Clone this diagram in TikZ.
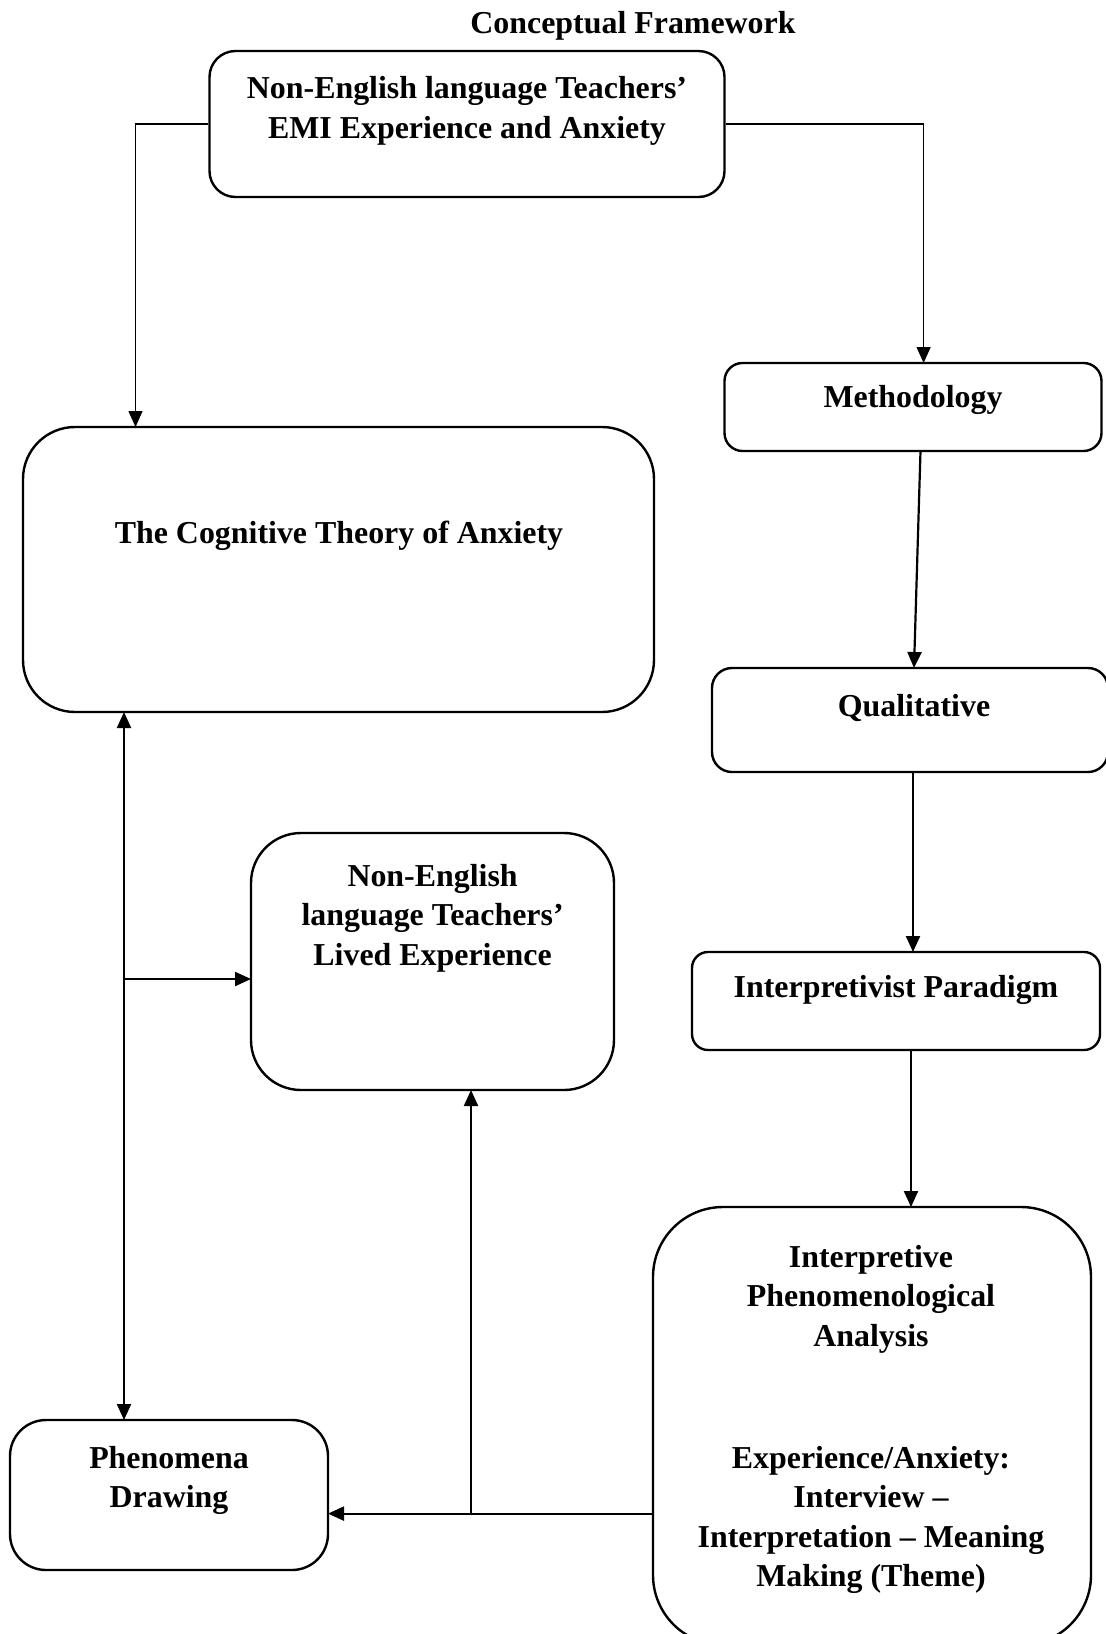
\documentclass[tikz,border=0pt]{standalone}
\usepackage{fontspec}
\setmainfont{Liberation Serif}
\usetikzlibrary{arrows.meta}
\begin{document}
\begin{tikzpicture}[x=1pt,y=-1pt,
  box/.style={draw,line width=2.4pt,inner sep=0pt},
  lbl/.style={font=\bfseries\fontsize{31.9}{39.6}\selectfont,align=center,inner sep=0pt},
  conn/.style={line width=2.2pt,-{Triangle[length=16pt,width=14pt]}},
  thinconn/.style={line width=1.4pt,-{Triangle[length=16pt,width=14pt]}},
  dconn/.style={line width=2.2pt,{Triangle[length=16pt,width=14pt]}-{Triangle[length=16pt,width=14pt]}}]
\useasboundingbox (0,0) rectangle (1106,1634);
% boxes
\node[box,rounded corners=26pt,minimum width=515pt,minimum height=146pt] (top) at (467,124) {};
\node[box,rounded corners=18pt,minimum width=377pt,minimum height=88pt] (meth) at (913,407) {};
\node[box,rounded corners=20pt,minimum width=396pt,minimum height=104pt] (qual) at (910,720) {};
\node[box,rounded corners=16pt,minimum width=408pt,minimum height=98pt] (interp) at (896,1001) {};
\node[box,rounded corners=70pt,minimum width=438pt,minimum height=438pt] (ipa) at (872,1426) {};
\node[box,rounded corners=52pt,minimum width=631pt,minimum height=285pt] (cog) at (338.5,569.5) {};
\node[box,rounded corners=50pt,minimum width=363pt,minimum height=257pt] (lived) at (432.5,961.5) {};
\node[box,rounded corners=36pt,minimum width=318pt,minimum height=150pt] (phen) at (169,1495) {};
% texts
\node[lbl] (title) at (633,26) {Conceptual Framework};
\node[lbl] (toptxt) at (467,111) {Non-English language Teachers’\\EMI Experience and Anxiety};
\node[lbl] (methtxt) at (913,400) {Methodology};
\node[lbl] (qualtxt) at (914,708) {Qualitative};
\node[lbl] (interptxt) at (896,990) {Interpretivist Paradigm};
\node[lbl] (ipatxt1) at (871,1299) {Interpretive\\Phenomenological\\Analysis};
\node[lbl] (ipatxt2) at (871,1520) {Experience/Anxiety:\\Interview –\\Interpretation – Meaning\\Making (Theme)};
\node[lbl] (cogtxt) at (339,536) {The Cognitive Theory of Anxiety};
\node[lbl] (livedtxt) at (432.6,918) {Non-English\\language Teachers’\\Lived Experience};
\node[lbl] (phentxt) at (169,1480.5) {Phenomena\\Drawing};
% coordinates
\coordinate (cogin) at (135.5,427);
\coordinate (methin) at (923.6,363);
\coordinate (methout) at (920.5,451);
\coordinate (qualin) at (914,668);
\coordinate (qualout) at (913,772);
\coordinate (interpin) at (913,952);
\coordinate (interpout) at (911,1050);
\coordinate (ipain) at (911,1207);
\coordinate (ipaout) at (653,1513.6);
\coordinate (phenin) at (328,1513.6);
\coordinate (junc) at (471,1513.6);
\coordinate (livedin) at (471,1090);
\coordinate (cogout) at (124,712);
\coordinate (phentop) at (124,1420);
\coordinate (branch) at (124,979);
\coordinate (livedleft) at (251,979);
% connectors
\draw[thinconn] (top.west) -| (cogin);
\draw[thinconn] (top.east) -| (methin);
\draw[conn] (methout) -- (qualin);
\draw[conn] (qualout) -- (interpin);
\draw[conn] (interpout) -- (ipain);
\draw[conn] (ipaout) -- (phenin);
\draw[conn] (junc) -- (livedin);
\draw[dconn] (cogout) -- (phentop);
\draw[conn] (branch) -- (livedleft);
\end{tikzpicture}
\end{document}
